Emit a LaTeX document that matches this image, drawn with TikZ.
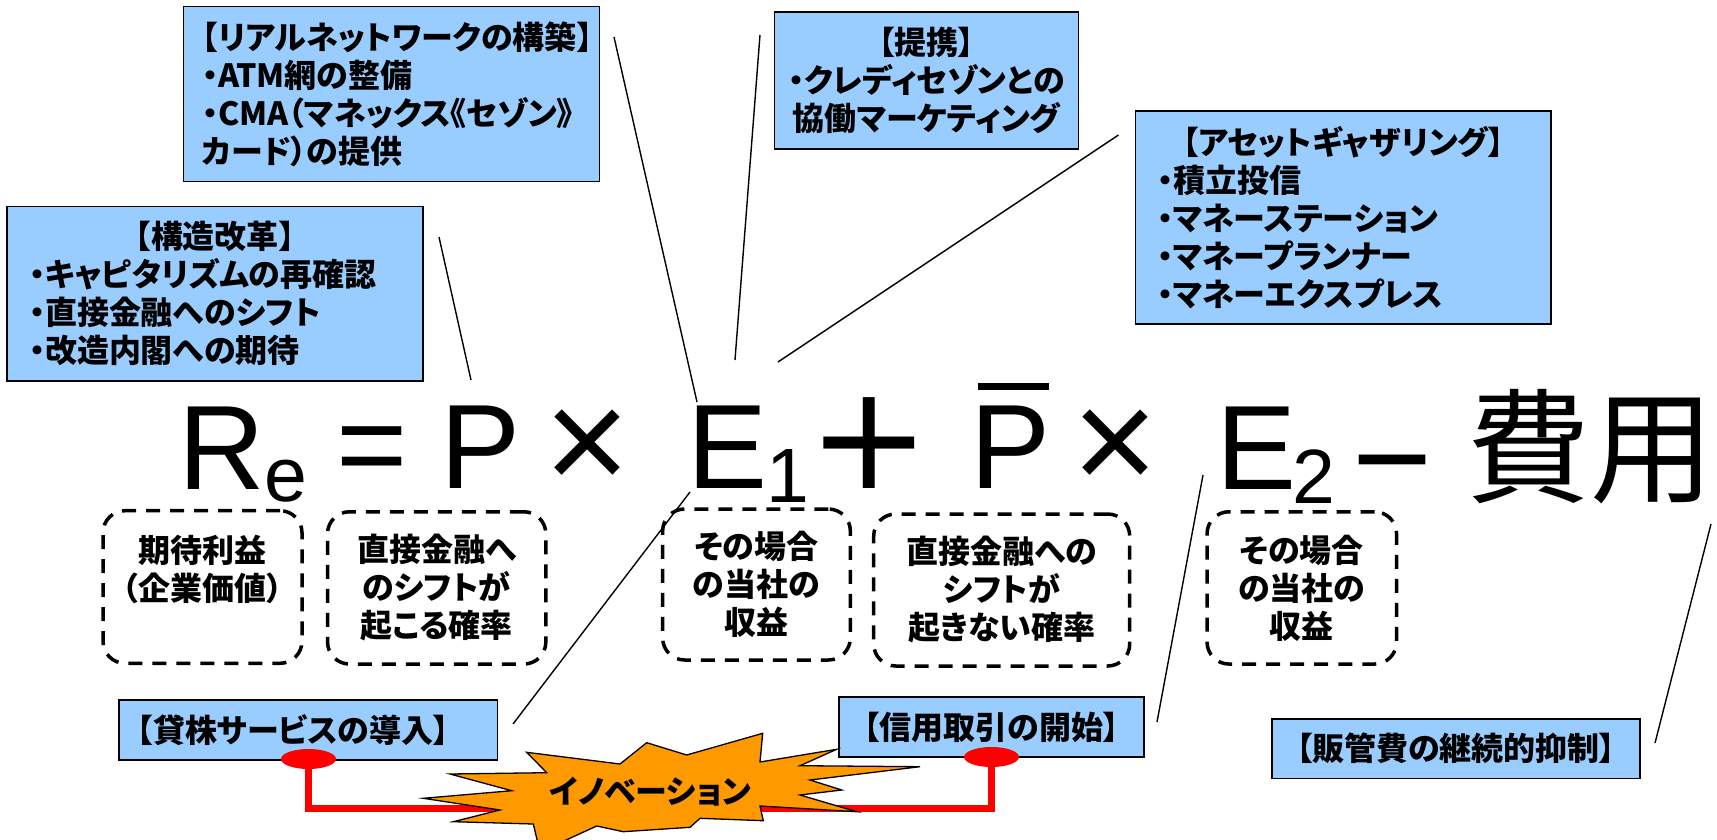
\documentclass[tikz,border=0pt]{standalone}
\usepackage{fontspec}
\setmainfont{Liberation Sans}
\newfontfamily\jp{Noto Sans CJK JP}[RawFeature=+palt]
\newfontfamily\jpreg{Noto Sans CJK JP}
\newfontfamily\lsans{Liberation Sans}
\newfontfamily\dvsans{DejaVu Sans}
\usetikzlibrary{shapes.geometric}
\definecolor{boxblue}{HTML}{99CCFF}
\definecolor{burst}{HTML}{FF9900}
\newcommand{\subfont}{\fontsize{77}{77}\selectfont}
\begin{document}
\begin{tikzpicture}[x=1pt,y=-1pt,
  bluebox/.style={draw=black,line width=1.6pt,fill=boxblue,inner ysep=0pt,
    font=\jp\bfseries\fontsize{32}{38}\selectfont},
  dashbox/.style={draw=black,line width=3.5pt,dash pattern=on 14pt off 10pt,
    rounded corners=22pt,inner sep=0pt,align=center,
    font=\jp\bfseries\fontsize{32}{38}\selectfont},
  callout/.style={draw=black,line width=1.4pt},
  fml/.style={inner sep=0pt,outer sep=0pt,anchor=base west},
  redline/.style={draw=red,line width=7pt},
  reddot/.style={ellipse,fill=red,minimum width=55pt,minimum height=20pt,inner sep=0pt},
]
\useasboundingbox (0,0) rectangle (1717,840);
\clip (0,0) rectangle (1717,840);
\fill[white] (0,0) rectangle (1717,840);

% callout lines
\coordinate (c1a) at (439,237); \coordinate (c1b) at (471,380);
\coordinate (c2a) at (614,37);  \coordinate (c2b) at (697,402);
\coordinate (c3a) at (760,35);  \coordinate (c3b) at (735,360);
\coordinate (c4a) at (1118.5,135); \coordinate (c4b) at (778,362);
\coordinate (c5a) at (513,724); \coordinate (c5b) at (690,492);
\coordinate (c6a) at (1157,722); \coordinate (c6b) at (1203,475);
\coordinate (c7a) at (1655,743); \coordinate (c7b) at (1711,524);
\foreach \k in {1,...,7} {\draw[callout] (c\k a) -- (c\k b);}

% top boxes
\node[bluebox,minimum width=416pt,minimum height=175pt,text width=378.6pt,inner xsep=18.7pt,align=left]
  (real) at (391.3,94.2) {【リアルネットワークの構築】\\・ATM網の整備\\・CMA（マネックス《セゾン》\\カード）の提供};
\node[bluebox,minimum width=416pt,minimum height=174.3pt,text width=372pt,inner xsep=22pt,align=left]
  (kozo) at (215,293.8) {\hfill【構造改革】\hfill\null\\・キャピタリズムの再確認\\・直接金融へのシフト\\・改造内閣への期待};
\node[bluebox,minimum width=304pt,minimum height=137.3pt,align=center,inner xsep=0pt]
  (teikei) at (926.5,80.4) {【提携】\\・クレディセゾンとの\\協働マーケティング};
\node[bluebox,minimum width=415.4pt,minimum height=213pt,text width=372.6pt,inner xsep=21.4pt,align=left]
  (asset) at (1343.3,217.5) {\hfill【アセットギャザリング】\hfill\null\\・積立投信\\・マネーステーション\\・マネープランナー\\・マネーエクスプレス};

% formula
\node[fml,font=\lsans\fontsize{120}{120}\selectfont] (Re) at (178.9,489)
  {R\hspace{-1pt}\raisebox{-12pt}{\subfont e}};
\node[fml,font=\lsans\fontsize{122}{122}\selectfont] (eq) at (336.8,486) {=};
\node[fml,font=\lsans\fontsize{120}{120}\selectfont] (P) at (440.8,488) {P};
\node[fml,font=\lsans\fontsize{147}{147}\selectfont] (x1) at (544.2,491) {×};
\node[fml,font=\lsans\fontsize{120}{120}\selectfont] (E1) at (687.5,488)
  {E\hspace{-1pt}\raisebox{-14pt}{\subfont 1}};
\node[inner sep=0pt,outer sep=0pt,anchor=center,font=\dvsans\fontsize{145}{145}\selectfont] (plus) at (869.7,443.3) {+};
\node[fml,font=\lsans\fontsize{120}{120}\selectfont] (Pbar) at (970.8,488.3)
  {\makebox[0pt][l]{\hspace{7.5pt}\rule[98.3pt]{71pt}{6.7pt}}P};
\node[fml,font=\lsans\fontsize{147}{147}\selectfont] (x2) at (1072.2,491) {×};
\node[fml,font=\lsans\fontsize{120}{120}\selectfont] (E2) at (1216.5,489)
  {E\hspace{-3.7pt}\raisebox{-14pt}{\subfont 2}};
\node[fml,font=\lsans\fontsize{137}{137}\selectfont] (minus) at (1352.3,505) {−};
\node[fml,font=\jpreg\fontsize{124}{124}\selectfont] (hiyo) at (1466,493) {費用};

% dashed boxes
\node[dashbox,minimum width=199pt,minimum height=152.6pt] (d1) at (202.5,587) {期待利益\\（企業価値）\\\mbox{}};
\node[dashbox,minimum width=218.3pt,minimum height=152.3pt] (d2) at (436.7,587.9) {直接金融へ\\のシフトが\\起こる確率};
\node[dashbox,minimum width=187.7pt,minimum height=151pt] (d3) at (756.5,584.5) {その場合\\の当社の\\収益};
\node[dashbox,minimum width=256pt,minimum height=152pt] (d4) at (1001.7,590) {直接金融への\\シフトが\\起きない確率};
\node[dashbox,minimum width=189.5pt,minimum height=152.3pt] (d5) at (1301.8,587.9) {その場合\\の当社の\\収益};

% bottom boxes
\node[bluebox,minimum width=378.5pt,minimum height=60pt,text width=342.5pt,inner xsep=18pt,align=left]
  (kabu) at (308.25,730) {【貸株サービスの導入】};
\node[bluebox,minimum width=305pt,minimum height=60pt,align=center]
  (shinyo) at (991.5,727) {【信用取引の開始】};
\node[bluebox,minimum width=368pt,minimum height=59.3pt,align=center]
  (hankan) at (1456,748.7) {【販管費の継続的抑制】};

% red connector
\node[reddot] (ellL) at (308.5,759) {};
\node[reddot] (ellR) at (991.5,757) {};
\coordinate (redrow) at (0,808.5);
\draw[redline] (ellL.center) -- (ellL.center |- redrow) -| (ellR.center);

% starburst
\filldraw[fill=burst,draw=black,line width=1.3pt,line join=miter]
 (526.7,752.3) -- (546.7,772.7) -- (450,774) -- (511.7,790.7) -- (423.3,798.3)
 -- (500,810) -- (453.3,821.7) -- (533.3,824) -- (540,852) -- (596.7,826)
 -- (623.3,831.7) -- (690,827.3) -- (700,818.3) -- (763.3,820.7) -- (760,806)
 -- (856.7,811.7) -- (800,795) -- (841.7,790) -- (810,780) -- (920,766.7)
 -- (800,765.7) -- (836.7,749.3) -- (760,762) -- (762.7,733.3) -- (686.7,755)
 -- (646.7,742.7) -- (620,764) -- cycle;
\node[font=\jp\bfseries\fontsize{32}{32}\selectfont,inner sep=0pt] (inov) at (650.5,792) {イノベーション};
\end{tikzpicture}
\end{document}
